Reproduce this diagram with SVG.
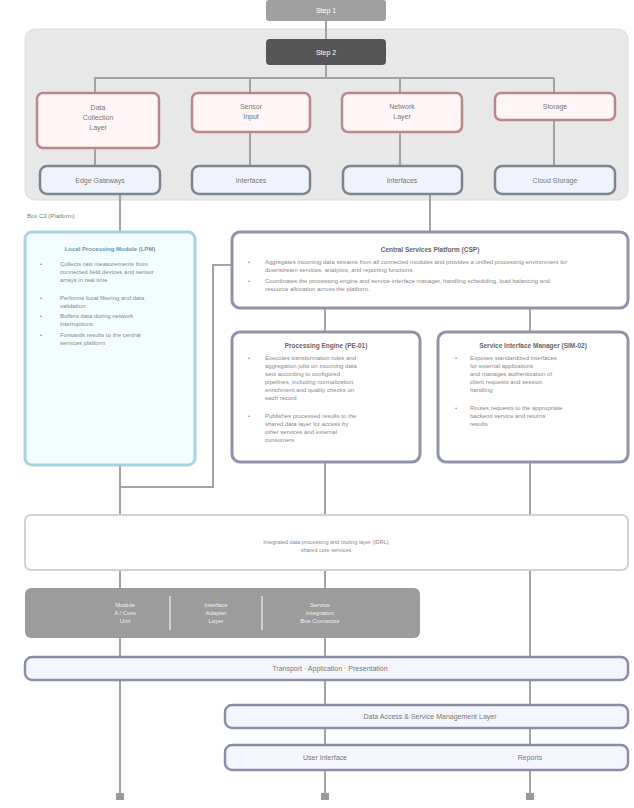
<svg xmlns="http://www.w3.org/2000/svg" width="634" height="808" viewBox="0 0 634 808">
<style>
text{font-family:"Liberation Sans",Arial,sans-serif;}
.ln{stroke:#a3a3a3;stroke-width:2;fill:none;}
.red{fill:#fff5f6;stroke:#b9888d;stroke-width:2.5;}
.blu{fill:#f1f3fc;stroke:#7c8590;stroke-width:2.5;}
.pur{fill:#ffffff;stroke:#8f93ab;stroke-width:3;}
.bar{fill:#f5f6fd;stroke:#8a8ea8;stroke-width:2.5;}
.t7{font-size:7px;fill:#777;text-anchor:middle;}
.t6{font-size:6px;fill:#888;}
.tt{font-size:6.5px;font-weight:bold;fill:#666;text-anchor:middle;}
.tw{font-size:7px;fill:#fff;text-anchor:middle;}
.dot{fill:#9a9a9a;}
</style>
<rect width="634" height="808" fill="#ffffff"/>

<g id="container">
<rect x="25" y="29" width="603" height="171" rx="10" fill="#e8e8e8" stroke="#dddddd" stroke-width="1"/>
</g>

<g id="connectors">
<path class="ln" d="M326,21 V39"/>
<path class="ln" d="M326,65 V78 M94,78 H554 M95,78 V93 M250,78 V93 M400,78 V93 M554,78 V93"/>
<path class="ln" d="M95,148 V166 M250,132 V166 M400,132 V166 M554,120 V166"/>
<path class="ln" d="M120,194 V232"/>
<path class="ln" d="M430,194 V232"/>
<path class="ln" d="M325,308 V332 M530,308 V332"/>
<path class="ln" d="M232,265 H213 V487 H120"/>
<path class="ln" d="M120,465 V795"/>
<path class="ln" d="M325,462 V795"/>
<path class="ln" d="M530,462 V795"/>
<rect class="dot" x="116" y="793" width="8" height="7"/>
<rect class="dot" x="321" y="793" width="8" height="7"/>
<rect class="dot" x="526" y="793" width="8" height="7"/>
</g>

<g id="step1">
<rect x="266" y="0" width="120" height="21" rx="3" fill="#a0a0a0"/>
<text class="tw" x="326" y="13">Step 1</text>
</g>
<g id="step2">
<rect x="266" y="39" width="120" height="26" rx="4" fill="#555555"/>
<text class="tw" x="326" y="55">Step 2</text>
</g>

<g id="r1">
<rect class="red" x="37" y="93" width="122" height="55" rx="6"/>
<text class="t7" x="98" y="110">Data</text>
<text class="t7" x="98" y="120">Collection</text>
<text class="t7" x="98" y="130">Layer</text>
</g>
<g id="r2">
<rect class="red" x="192" y="93" width="118" height="39" rx="6"/>
<text class="t7" x="251" y="109">Sensor</text>
<text class="t7" x="251" y="119">Input</text>
</g>
<g id="r3">
<rect class="red" x="342" y="93" width="120" height="39" rx="6"/>
<text class="t7" x="402" y="109">Network</text>
<text class="t7" x="402" y="119">Layer</text>
</g>
<g id="r4">
<rect class="red" x="495" y="93" width="120" height="27" rx="6"/>
<text class="t7" x="555" y="109">Storage</text>
</g>

<g id="b1">
<rect class="blu" x="40" y="166" width="120" height="28" rx="7"/>
<text class="t7" x="100" y="183">Edge Gateways</text>
</g>
<g id="b2">
<rect class="blu" x="192" y="166" width="118" height="28" rx="7"/>
<text class="t7" x="251" y="183">Interfaces</text>
</g>
<g id="b3">
<rect class="blu" x="343" y="166" width="119" height="28" rx="7"/>
<text class="t7" x="402" y="183">Interfaces</text>
</g>
<g id="b4">
<rect class="blu" x="495" y="166" width="120" height="28" rx="7"/>
<text class="t7" x="555" y="183">Cloud Storage</text>
</g>

<g id="label">
<text x="27" y="218" style="font-size:6px;fill:#777;">Box C3 (Platform)</text>
</g>

<g id="lpm">
<rect x="25" y="232" width="170" height="233" rx="7" fill="#f2fdff" stroke="#a9d3de" stroke-width="3"/>
<text x="110" y="251" style="font-size:6px;font-weight:bold;fill:#6a98b0;text-anchor:middle;">Local Processing Module (LPM)</text>
<g class="t6">
<text x="40" y="266">•</text>
<text x="60" y="266">Collects raw measurements from</text>
<text x="60" y="274">connected field devices and sensor</text>
<text x="60" y="282">arrays in real time</text>
<text x="40" y="300">•</text>
<text x="60" y="300">Performs local filtering and data</text>
<text x="60" y="308">validation</text>
<text x="40" y="318">•</text>
<text x="60" y="318">Buffers data during network</text>
<text x="60" y="326">interruptions</text>
<text x="40" y="337">•</text>
<text x="60" y="337">Forwards results to the central</text>
<text x="60" y="345">services platform</text>
</g>
</g>

<g id="csp">
<rect class="pur" x="232" y="232" width="396" height="76" rx="8"/>
<text class="tt" x="430" y="252">Central Services Platform (CSP)</text>
<g class="t6">
<text x="248" y="264">•</text>
<text x="265" y="264">Aggregates incoming data streams from all connected modules and provides a unified processing environment for</text>
<text x="265" y="272">downstream services, analytics, and reporting functions.</text>
<text x="248" y="283">•</text>
<text x="265" y="283">Coordinates the processing engine and service interface manager, handling scheduling, load balancing and</text>
<text x="265" y="291">resource allocation across the platform.</text>
</g>
</g>

<g id="pe">
<rect class="pur" x="232" y="332" width="188" height="130" rx="8"/>
<text class="tt" x="326" y="348">Processing Engine (PE-01)</text>
<g class="t6">
<text x="248" y="360">•</text>
<text x="265" y="360">Executes transformation rules and</text>
<text x="265" y="368">aggregation jobs on incoming data</text>
<text x="265" y="376">sets according to configured</text>
<text x="265" y="384">pipelines, including normalization,</text>
<text x="265" y="392">enrichment and quality checks on</text>
<text x="265" y="400">each record</text>
<text x="248" y="418">•</text>
<text x="265" y="418">Publishes processed results to the</text>
<text x="265" y="426">shared data layer for access by</text>
<text x="265" y="434">other services and external</text>
<text x="265" y="442">consumers</text>
</g>
</g>

<g id="sim">
<rect class="pur" x="438" y="332" width="190" height="130" rx="8"/>
<text class="tt" x="533" y="348">Service Interface Manager (SIM-02)</text>
<g class="t6">
<text x="455" y="360">•</text>
<text x="470" y="360">Exposes standardized interfaces</text>
<text x="470" y="368">for external applications</text>
<text x="470" y="376">and manages authentication of</text>
<text x="470" y="384">client requests and session</text>
<text x="470" y="392">handling</text>
<text x="455" y="410">•</text>
<text x="470" y="410">Routes requests to the appropriate</text>
<text x="470" y="418">backend service and returns</text>
<text x="470" y="426">results</text>
</g>
</g>

<g id="core">
<rect x="25" y="515" width="603" height="55" rx="6" fill="#ffffff" stroke="#d2d2d2" stroke-width="2"/>
<text x="326" y="544" style="font-size:5.5px;fill:#888;text-anchor:middle;">Integrated data processing and routing layer (IDRL)</text>
<text x="326" y="552" style="font-size:5.5px;fill:#888;text-anchor:middle;">shared core services</text>
</g>

<g id="modules">
<rect x="25" y="588" width="395" height="50" rx="6" fill="#9c9c9c"/>
<line x1="170" y1="596" x2="170" y2="630" stroke="#e0e0e0" stroke-width="1.5"/>
<line x1="262" y1="596" x2="262" y2="630" stroke="#e0e0e0" stroke-width="1.5"/>
<g style="font-size:6px;fill:#eeeeee;text-anchor:middle;">
<text x="125" y="607">Module</text>
<text x="125" y="615">A / Core</text>
<text x="125" y="623">Unit</text>
<text x="216" y="607">Interface</text>
<text x="216" y="615">Adapter</text>
<text x="216" y="623">Layer</text>
<text x="320" y="607">Service</text>
<text x="320" y="615">Integration</text>
<text x="320" y="623">Bus Connector</text>
</g>
</g>

<g id="transport">
<rect class="bar" x="25" y="657" width="603" height="23" rx="7"/>
<text class="t7" x="330" y="671">Transport · Application · Presentation</text>
</g>
<g id="access">
<rect class="bar" x="225" y="705" width="403" height="23" rx="7"/>
<text class="t7" x="430" y="719">Data Access &amp; Service Management Layer</text>
</g>
<g id="outputs">
<rect class="bar" x="225" y="745" width="403" height="25" rx="7"/>
<text class="t7" x="325" y="760">User Interface</text>
<text class="t7" x="530" y="760">Reports</text>
</g>
</svg>
